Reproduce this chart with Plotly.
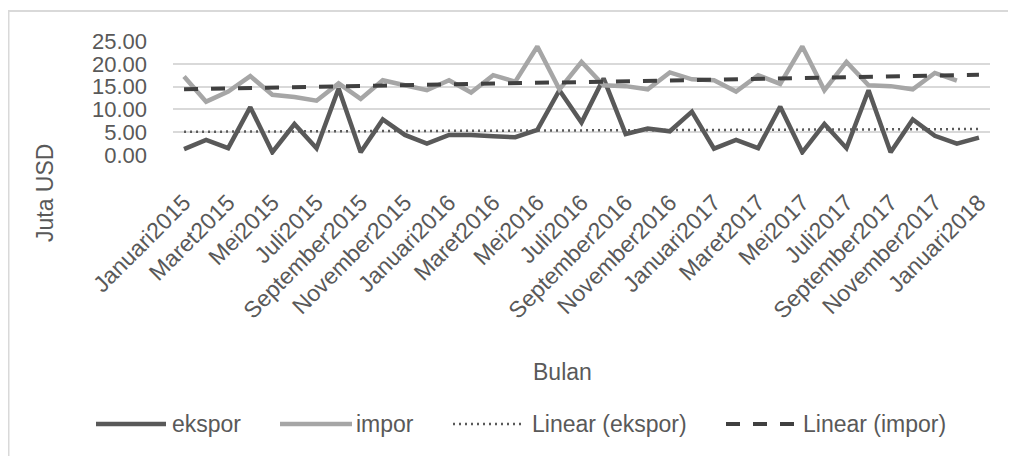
import numpy as np
import plotly.graph_objects as go

months = ["Januari", "Februari", "Maret", "April", "Mei", "Juni", "Juli",
          "Agustus", "September", "Oktober", "November", "Desember"]
years = [2015, 2016, 2017]
categories = [f"{m}{y}" for y in years for m in months] + ["Januari2018"]

ekspor = [1.3, 3.3, 1.5, 10.5, 0.6, 6.8, 1.5, 14.6, 0.6, 7.8, 4.4, 2.5,
          4.4, 4.4, 4.1, 3.9, 5.5, 14.2, 7.1, 16.8, 4.6, 5.8, 5.2, 9.5,
          1.4, 3.3, 1.5, 10.6, 0.6, 6.8, 1.5, 14.2, 0.6, 7.8, 4.2, 2.5,
          3.8]
impor = [17.2, 11.7, 13.9, 17.3, 13.2, 12.7, 11.9, 15.7, 12.3, 16.4, 15.3, 14.2,
         16.4, 13.7, 17.5, 16.1, 23.8, 14.4, 20.4, 15.3, 15.1, 14.4, 18.1, 16.6,
         16.4, 13.9, 17.5, 15.6, 23.8, 14.2, 20.4, 15.3, 15.1, 14.4, 18.0, 16.3,
         None]

y_ticks = [0, 5, 10, 15, 20, 25]
x_tick_labels = categories[::2]

legend_names = ["ekspor", "impor", "Linear (ekspor)", "Linear (impor)"]


def linear_trend(values):
    idx = np.arange(len(values), dtype=float)
    arr = np.array([np.nan if v is None else v for v in values], dtype=float)
    mask = ~np.isnan(arr)
    slope, intercept = np.polyfit(idx[mask], arr[mask], 1)
    return list(slope * idx + intercept)


trend_ekspor = linear_trend(ekspor)
trend_impor = linear_trend(impor)

C_EKS = "#595959"
C_IMP = "#A6A6A6"
C_TIMP = "#404040"
TXT = "#595959"
FONT = "Liberation Sans, Arial, sans-serif"
FS_Y = 22
FS = 23

OFF = 8  # page body margin: screen pixel = figure pixel + 8
W, H = 1016 - OFF, 456 - OFF
PL, PR, PT, PB = 173 - OFF, 990 - OFF, 41 - OFF, 155 - OFF   # plot area (figure px)

fig = go.Figure()
fig.add_trace(go.Scatter(x=categories, y=ekspor, mode="lines", name=legend_names[0],
                         line=dict(color=C_EKS, width=4.5), showlegend=False))
fig.add_trace(go.Scatter(x=categories, y=impor, mode="lines", name=legend_names[1],
                         line=dict(color=C_IMP, width=4.5), showlegend=False))
fig.add_trace(go.Scatter(x=categories, y=trend_ekspor, mode="lines", name=legend_names[2],
                         line=dict(color=C_EKS, width=2.5, dash="2px,4px"), showlegend=False))
fig.add_trace(go.Scatter(x=categories, y=trend_impor, mode="lines", name=legend_names[3],
                         line=dict(color=C_TIMP, width=4, dash="14px,13px"), showlegend=False))


def px(x):
    """screen x pixel -> paper coordinate"""
    return (x - OFF - PL) / (PR - PL)


def py(y):
    """screen y pixel -> paper coordinate"""
    return (PB - (y - OFF)) / (PB - PT)


shapes = [dict(type="rect", xref="paper", yref="paper",
               x0=px(8.5), x1=px(1030), y0=py(11), y1=py(470),
               line=dict(color="#D9D9D9", width=2), fillcolor="rgba(0,0,0,0)", layer="below")]
annotations = [
    dict(text="Juta USD", xref="paper", yref="paper", x=px(45), y=py(193),
         showarrow=False, textangle=-90, font=dict(size=FS, color=TXT, family=FONT),
         xanchor="center", yanchor="middle"),
    dict(text="Bulan", xref="paper", yref="paper", x=px(562), y=py(372),
         showarrow=False, font=dict(size=FS, color=TXT, family=FONT),
         xanchor="center", yanchor="middle"),
]

# manual legend
leg_y = 424
leg_items = [
    (legend_names[0], 96, 166, 170, dict(color=C_EKS, width=4.5)),
    (legend_names[1], 280, 352, 354, dict(color=C_IMP, width=4.5)),
    (legend_names[2], 453, 524, 530, dict(color=C_EKS, width=2.5, dash="2px,4px")),
    (legend_names[3], 726, 795, 801, dict(color=C_TIMP, width=4, dash="14px,13px")),
]
for name, x0, x1, xt, ln in leg_items:
    shapes.append(dict(type="line", xref="paper", yref="paper",
                       x0=px(x0), x1=px(x1), y0=py(leg_y), y1=py(leg_y), line=ln))
    annotations.append(dict(text=name, xref="paper", yref="paper", x=px(xt), y=py(leg_y),
                            showarrow=False, xanchor="left", yanchor="middle",
                            font=dict(size=FS, color=TXT, family=FONT)))

fig.update_layout(
    width=W, height=H,
    margin=dict(l=PL, r=W - PR, t=PT, b=H - PB, autoexpand=False),
    paper_bgcolor="white", plot_bgcolor="white",
    font=dict(family=FONT, size=FS, color=TXT),
    shapes=shapes, annotations=annotations,
    showlegend=False,
)
fig.update_xaxes(type="category", categoryorder="array", categoryarray=categories,
                 range=[-0.5, len(categories) - 0.5],
                 tickvals=x_tick_labels, ticktext=x_tick_labels, tickangle=-45,
                 showgrid=False, showline=False, zeroline=False,
                 ticks="outside", ticklen=24, tickcolor="rgba(0,0,0,0)",
                 tickfont=dict(size=FS, color=TXT, family=FONT))
fig.update_yaxes(range=[0, 25], tickvals=y_ticks, tickformat=".2f",
                 showgrid=True, gridcolor="#D9D9D9", gridwidth=1.5,
                 zeroline=False, showline=False, ticks="", ticklabelstandoff=25,
                 tickfont=dict(size=FS_Y, color=TXT, family=FONT))

fig.write_html("out.html")
